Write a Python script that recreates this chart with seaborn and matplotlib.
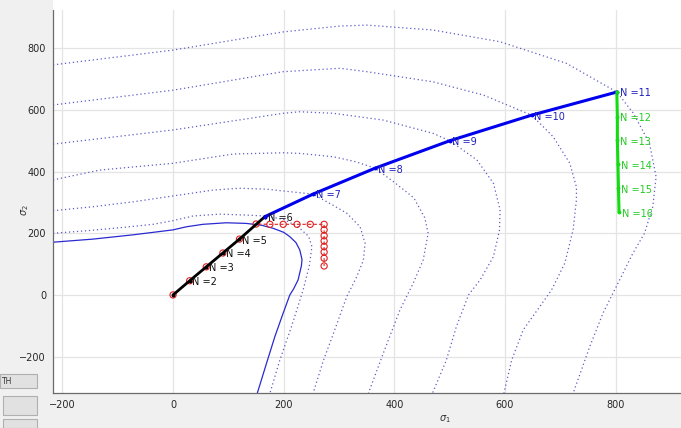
import matplotlib
matplotlib.use("Agg")
import matplotlib.pyplot as plt
from matplotlib.patches import Rectangle
import pandas as pd
import seaborn as sns

# initial yield surface (solid)
solid_x = [-217, -145, -72, 0, 24, 54, 96, 132, 160, 181, 200, 211, 222, 229, 233, 232, 226, 218, 211, 199, 184, 169, 152]
solid_y = [171, 181, 195, 211, 221, 229, 234, 232, 226, 216, 203, 189, 170, 146, 115, 95, 49, 20, 0, -59, -135, -221, -320]

# subsequent yield surfaces (dotted), innermost first
d1_x = [-217, -157, -96, -36, 0, 36, 84, 132, 166, 200, 226, 245, 251, 246, 235, 214, 193, 175]
d1_y = [200, 208, 218, 229, 241, 256, 262, 259, 256, 245, 221, 190, 157, 92, 16, -103, -211, -319]
d2_x = [-217, -145, -72, 0, 72, 120, 169, 205, 253, 285, 314, 338, 347, 344, 332, 314, 290, 272, 253]
d2_y = [273, 286, 302, 321, 340, 346, 343, 336, 327, 295, 265, 221, 168, 113, 59, -5, -124, -211, -319]
d3_x = [-217, -132, 0, 109, 199, 229, 290, 330, 365, 400, 435, 455, 461, 452, 434, 410, 380, 353]
d3_y = [373, 405, 427, 457, 461, 459, 448, 432, 411, 365, 315, 250, 200, 113, 38, -49, -189, -319]
d4_x = [-217, 0, 199, 229, 290, 380, 470, 500, 549, 579, 591, 590, 579, 555, 534, 512, 494, 469]
d4_y = [489, 535, 589, 594, 589, 567, 524, 500, 438, 362, 276, 211, 124, 49, 0, -103, -211, -318]
d5_x = [-217, 0, 199, 302, 350, 470, 561, 648, 687, 717, 729, 729, 723, 708, 684, 633, 612, 598]
d5_y = [616, 664, 724, 735, 724, 691, 648, 583, 513, 427, 350, 308, 211, 103, 16, -113, -211, -318]
d6_x = [-217, 0, 199, 302, 350, 470, 591, 711, 802, 832, 861, 873, 867, 852, 831, 801, 777, 753, 723]
d6_y = [746, 794, 853, 872, 875, 859, 821, 751, 658, 589, 492, 383, 286, 200, 135, 27, -59, -168, -319]

# trial stress points (red circles)
trial_x = [0, 30, 60, 90, 120, 150, 175, 199, 224, 248, 273, 273, 273, 273, 273, 273, 273, 273]
trial_y = [0, 46, 91, 136, 181, 230, 229, 229, 229, 229, 229, 211, 192, 175, 157, 139, 119, 94]

# stress path segments
black_x = [0, 30, 60, 90, 120, 166]
black_y = [0, 46, 91, 136, 181, 254]
black_n = [1, 2, 3, 4, 5, 6]
blue_x = [166, 253, 365, 500, 648, 802]
blue_y = [254, 327, 411, 500, 583, 658]
blue_n = [6, 7, 8, 9, 10, 11]
green_x = [802, 803, 803, 804, 805, 806]
green_y = [658, 578, 502, 424, 346, 268]
green_n = [11, 12, 13, 14, 15, 16]

x_ticks = [-200, 0, 200, 400, 600, 800]
y_ticks = [-200, 0, 200, 400, 600, 800]

BG = '#f0f0f0'
DOT = '#3535b5'

sns.set_style("whitegrid")
plt.rcParams['font.family'] = ['DejaVu Sans']

fig = plt.figure(figsize=(6.81, 4.28), dpi=100, facecolor=BG)
ax = fig.add_axes([53 / 681, 35 / 428, 1 - 53 / 681, 383 / 428])
ax.set_facecolor('white')

# white strip above the axes
fig.patches.append(Rectangle((53 / 681, 418 / 428), 1, 10 / 428, transform=fig.transFigure,
                             facecolor='white', edgecolor='none', zorder=0))

for cx, cy in [(d1_x, d1_y), (d2_x, d2_y), (d3_x, d3_y), (d4_x, d4_y), (d5_x, d5_y), (d6_x, d6_y)]:
    sns.lineplot(x=cx, y=cy, sort=False, estimator=None, ax=ax, color=DOT,
                 linewidth=0.9, linestyle=(0, (1, 2.2)), alpha=0.8)

sns.lineplot(x=solid_x, y=solid_y, sort=False, estimator=None, ax=ax, color='#2a2ad0', linewidth=0.9)

sns.lineplot(x=trial_x, y=trial_y, sort=False, estimator=None, ax=ax, color='#e02020',
             linewidth=0.8, linestyle=(0, (3, 2)))
sns.scatterplot(x=trial_x, y=trial_y, ax=ax, marker='o', s=20, facecolors='none',
                edgecolor='#e02020', linewidth=0.8, zorder=4)

paths = [
    (black_x, black_y, black_n, 'black', '#111111', 2.0),
    (blue_x, blue_y, blue_n, '#0000ee', '#2020c0', 2.2),
    (green_x, green_y, green_n, '#11dd11', '#22cc22', 2.2),
]
for px, py, pn, col, tcol, lw in paths:
    sns.lineplot(x=px, y=py, sort=False, estimator=None, ax=ax, color=col, linewidth=lw, zorder=5)
    ax.plot(px, py, '.', color=col, markersize=3.5, zorder=6)

# labels
for px, py, pn, col, tcol, lw in paths:
    for xv, yv, n in list(zip(px, py, pn))[1:]:
        ax.annotate(f"N ={n}", (xv, yv), xytext=(2, -1), textcoords='offset points',
                    ha='left', va='center', fontsize=7, color=tcol, zorder=7)

ax.set_xlim(-217, 918)
ax.set_ylim(-318, 924)
ax.set_xticks(x_ticks)
ax.set_yticks(y_ticks)
ax.tick_params(direction='in', length=4, width=0.8, colors='#555555', labelsize=7,
               labelcolor='#262626', pad=5)
ax.grid(True, color='#e4e4e4', linewidth=0.9)
for side in ['top', 'right']:
    ax.spines[side].set_visible(False)
for side in ['left', 'bottom']:
    ax.spines[side].set_color('#6a6a6a')
    ax.spines[side].set_linewidth(0.9)

ax.set_xlabel(r'$\sigma_1$', fontsize=7, color='#333333')
ax.set_ylabel(r'$\sigma_2$', fontsize=7, color='#333333')
ax.xaxis.set_label_coords((445 - 53) / 628, (393 - 413) / 383)
ax.yaxis.set_label_coords((31 - 53) / 628, (393 - 210) / 383)

# GUI buttons at lower left
for (bx, by, bw, bh) in [(0, 40, 37, 14), (3, 13, 34, 19), (3, 0, 34, 9)]:
    fig.patches.append(Rectangle((bx / 681, by / 428), bw / 681, bh / 428, transform=fig.transFigure,
                                 facecolor='#e1e1e1', edgecolor='#b0b0b0', linewidth=0.8))
fig.text(2 / 681, 47 / 428, 'TH', fontsize=5.5, va='center', ha='left', color='#333333')

fig.savefig('out.png', dpi=100, facecolor=BG)
